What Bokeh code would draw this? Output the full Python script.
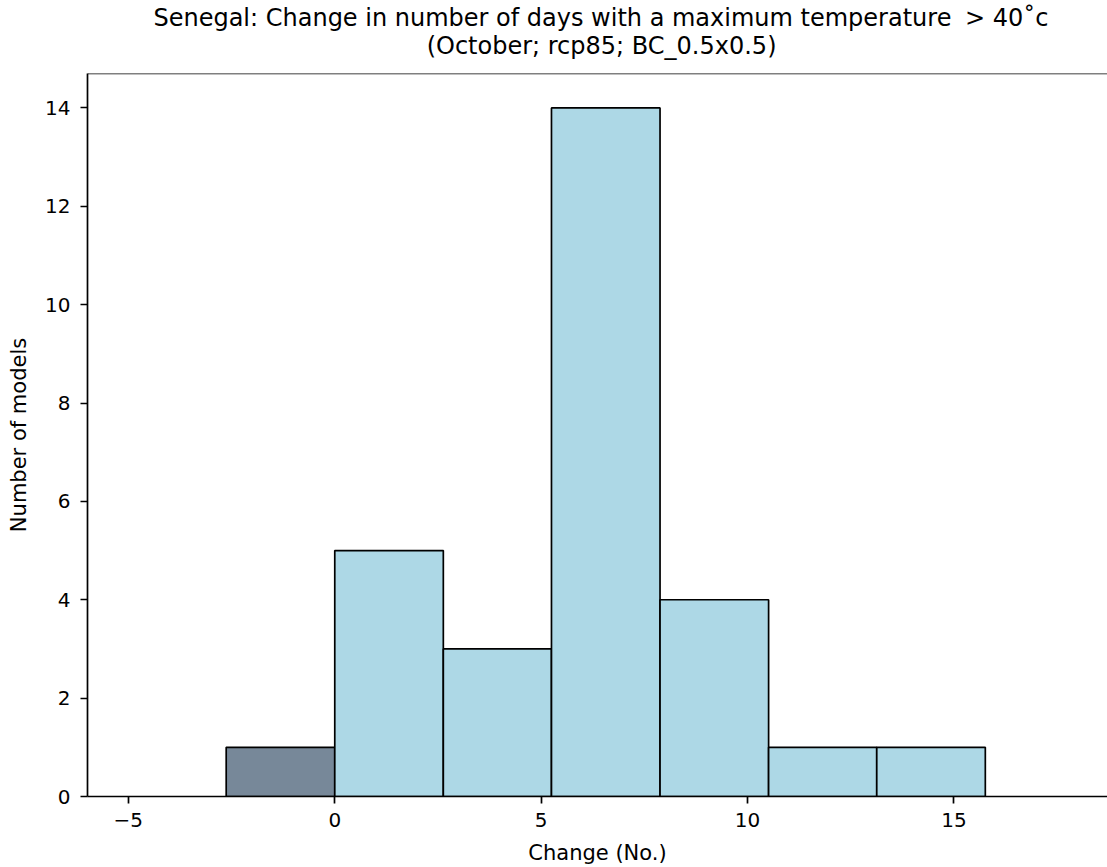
from bokeh.plotting import figure
from bokeh.models import Range1d, FixedTicker, Span, Title, ColumnDataSource
from bokeh.embed import file_html
from bokeh.resources import INLINE

# ---- data ----
bin_edges = [-2.63, 0.0, 2.63, 5.25, 7.88, 10.51, 13.13, 15.76]
model_counts = [1, 5, 3, 14, 4, 1, 1]
x_ticks = [-5, 0, 5, 10, 15]
y_ticks = [0, 2, 4, 6, 8, 10, 12, 14]

title_line1 = "Senegal: Change in number of days with a maximum temperature \u2005> 40\u02dac"
title_line2 = "(October; rcp85; BC_0.5x0.5)"
x_label = "Change (No.)"
y_label = "Number of models"

FONT = "DejaVu Sans"

lefts = bin_edges[:-1]
rights = bin_edges[1:]
colors = ["#778899" if r <= 0 else "#ADD8E6" for r in rights]
src = ColumnDataSource(dict(left=lefts, right=rights, top=model_counts,
                            bottom=[0] * len(model_counts), color=colors))

p = figure(width=1107, height=867,
           x_range=Range1d(-5.99, 18.72), y_range=Range1d(0, 14.7),
           output_backend="svg", toolbar_location=None,
           min_border_left=87, min_border_right=0, min_border_top=73, min_border_bottom=71)

# first title line (outermost panel)
p.title.text = title_line1
p.title.align = "right"
p.title.offset = 59
p.title.vertical_align = "bottom"
p.title.text_font = FONT
p.title.text_font_size = "24px"
p.title.text_font_style = "normal"
p.title.text_color = "black"
p.title.standoff = -28.8

# second title line (next to the frame)
sub = Title(text=title_line2, align="right", offset=331, vertical_align="middle",
            text_font=FONT, text_font_size="24px", text_font_style="normal",
            text_color="black", standoff=26)
p.add_layout(sub, "above")

p.quad(left="left", right="right", top="top", bottom="bottom", source=src,
       fill_color="color", line_color="black", line_width=1.7)

p.grid.visible = False
p.outline_line_color = None
p.background_fill_color = "white"
p.border_fill_color = "white"

for ax in (p.xaxis[0], p.yaxis[0]):
    ax.axis_line_width = 1.7
    ax.axis_line_color = "black"
    ax.major_tick_line_width = 1.7
    ax.major_tick_line_color = "black"
    ax.major_tick_out = 7
    ax.major_tick_in = 0
    ax.minor_tick_out = 0
    ax.minor_tick_in = 0
    ax.major_label_text_font = FONT
    ax.major_label_text_font_size = "20px"
    ax.major_label_text_color = "black"
    ax.axis_label_text_font = FONT
    ax.axis_label_text_font_size = "21px"
    ax.axis_label_text_font_style = "normal"
    ax.axis_label_text_color = "black"

p.xaxis.ticker = FixedTicker(ticks=x_ticks)
p.yaxis.ticker = FixedTicker(ticks=y_ticks)
p.xaxis.major_label_overrides = {t: str(t).replace("-", "\u2212") for t in x_ticks}
p.xaxis.axis_label = x_label
p.yaxis.axis_label = y_label
p.xaxis.major_label_standoff = 9
p.xaxis.axis_label_standoff = 11
p.yaxis.major_label_standoff = 10
p.yaxis.axis_label_standoff = 11

top_spine = Span(location=p.y_range.end, dimension="width", line_color="black", line_width=1.7)
p.add_layout(top_spine)

open("out.html", "w").write(file_html(p, INLINE))
